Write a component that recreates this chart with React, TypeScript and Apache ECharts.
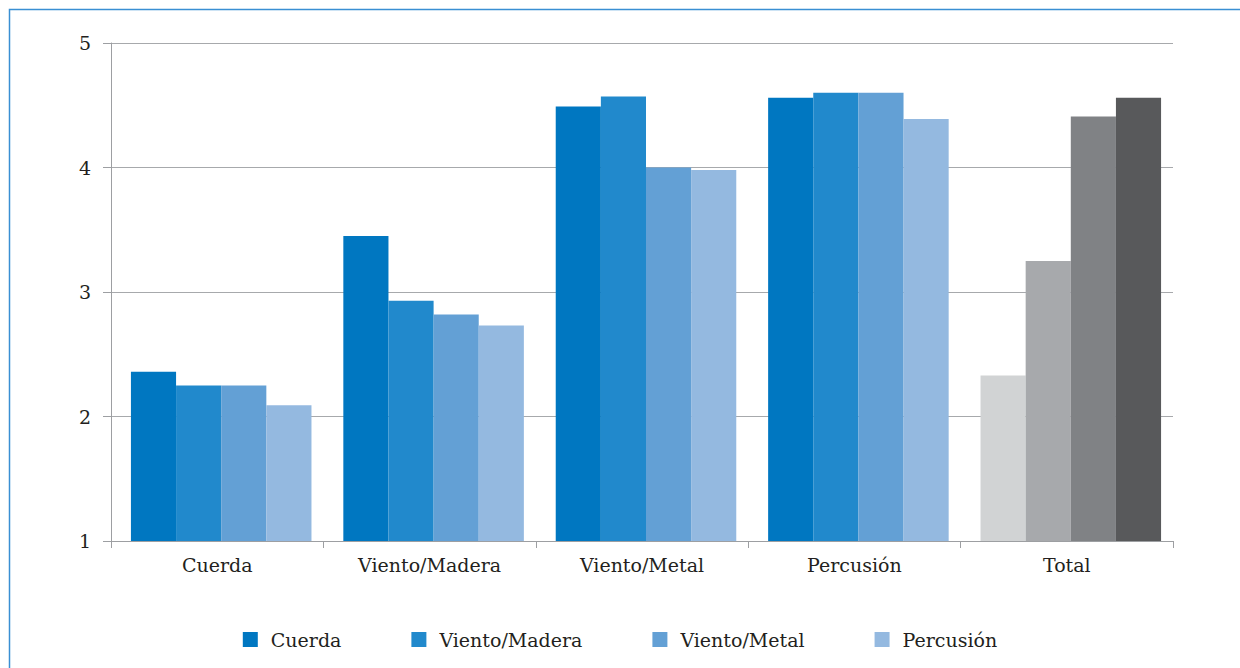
import React, { useEffect, useRef } from "react";
import * as echarts from "echarts";

const categories = ["Cuerda", "Viento/Madera", "Viento/Metal", "Percusión", "Total"];
const seriesNames = ["Cuerda", "Viento/Madera", "Viento/Metal", "Percusión"];
const cuerda = [2.36, 2.25, 2.25, 2.09];
const vientoMadera = [3.45, 2.93, 2.82, 2.73];
const vientoMetal = [4.49, 4.57, 4.0, 3.98];
const percusion = [4.56, 4.6, 4.6, 4.39];
const total = [2.33, 3.25, 4.41, 4.56];
const yTicks = [1, 2, 3, 4, 5];

const blueColors = ["#0077C1", "#2189CC", "#63A0D5", "#94B9E0"];
const grayColors = ["#D1D3D4", "#A7A9AC", "#808285", "#58595B"];

const groups = [cuerda, vientoMadera, vientoMetal, percusion, total];

export default function App() {
  const ref = useRef<HTMLDivElement>(null);
  useEffect(() => {
    if (!ref.current) return;
    const chart = echarts.init(ref.current, undefined, { renderer: "svg" });
    const font = "DejaVu Serif";
    const series = seriesNames.map((name, si) => ({
      name,
      type: "bar",
      xAxisIndex: 1,
      yAxisIndex: 1,
      barGap: "0%",
      barCategoryGap: "15%",
      itemStyle: { color: blueColors[si] },
      data: groups.map((g, ci) =>
        ci === categories.length - 1
          ? { value: g[si], itemStyle: { color: grayColors[si] } }
          : g[si]
      ),
    }));
    chart.setOption({
      animation: false,
      backgroundColor: "#ffffff",
      grid: [
        { left: 111, right: 67, top: 43, bottom: 127 },
        { left: 115, right: 63, top: 43, bottom: 127 },
      ],
      legend: {
        top: 625,
        left: "center",
        icon: "rect",
        itemWidth: 15,
        itemHeight: 15,
        itemGap: 70,
        textStyle: { fontFamily: font, fontSize: 19, color: "#231F20", padding: [0, 0, 0, 8] },
        data: seriesNames,
      },
      xAxis: [
        {
          type: "category",
          gridIndex: 0,
          data: categories,
          axisLine: { lineStyle: { color: "#9D9FA2", width: 1 } },
          axisTick: { show: true, length: 7, lineStyle: { color: "#9D9FA2" } },
          axisLabel: { fontFamily: font, fontSize: 19, color: "#231F20", margin: 14 },
        },
        {
          type: "category",
          gridIndex: 1,
          data: categories,
          show: false,
        },
      ],
      yAxis: [
        {
          type: "value",
          gridIndex: 0,
          min: yTicks[0],
          max: yTicks[yTicks.length - 1],
          interval: 1,
          axisLine: { show: true, lineStyle: { color: "#9D9FA2", width: 1 } },
          axisTick: { show: true, length: 8, lineStyle: { color: "#9D9FA2" } },
          splitLine: { lineStyle: { color: "#A7A9AC", width: 1 } },
          axisLabel: { fontFamily: font, fontSize: 19, color: "#231F20", margin: 20 },
        },
        {
          type: "value",
          gridIndex: 1,
          min: yTicks[0],
          max: yTicks[yTicks.length - 1],
          interval: 1,
          show: false,
          splitLine: { show: false },
        },
      ],
      graphic: [
        {
          type: "rect",
          shape: { x: 9.5, y: 9.5, width: 1300, height: 700 },
          style: { fill: "none", stroke: "#3A8FD3", lineWidth: 1.5 },
          silent: true,
        },
      ],
      series,
    });
    return () => chart.dispose();
  }, []);
  return (
    <div
      ref={ref}
      style={{ position: "fixed", left: 0, top: 0, width: 1240, height: 668, background: "#fff" }}
    />
  );
}
